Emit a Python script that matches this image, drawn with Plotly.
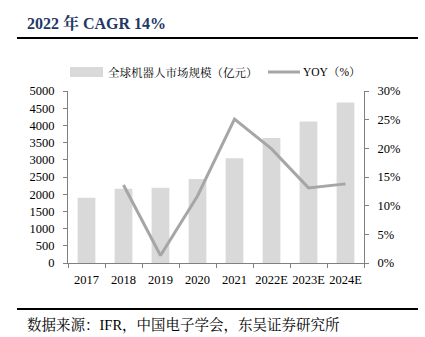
import plotly.graph_objects as go

years = ["2017", "2018", "2019", "2020", "2021", "2022E", "2023E", "2024E"]
market = [1900, 2160, 2190, 2440, 3045, 3635, 4115, 4665]
yoy_years = ["2018", "2019", "2020", "2021", "2022E", "2023E", "2024E"]
yoy = [13.6, 1.3, 11.7, 25.1, 19.9, 13.1, 13.8]

left_ticks = list(range(0, 5001, 500))
right_ticks = list(range(0, 31, 5))

bar_name = "全球机器人市场规模（亿元）"
line_name = "YOY（%）"
bar_color = "#d9d9d9"
line_color = "#a6a6a6"

serif = "Liberation Serif, Times New Roman, Noto Serif CJK SC, Noto Sans CJK SC, serif"

W, H = 425, 337
pl, pr, pt, pb = 68, 61, 91, 74
pw, ph = W - pl - pr, H - pt - pb


def px(x):
    return (x - pl) / pw


def py(y):
    return (H - pb - y) / ph


fig = go.Figure()
fig.add_trace(go.Bar(
    x=years, y=market, name=bar_name, showlegend=False,
    marker=dict(color=bar_color, line=dict(width=0)), width=0.48,
))
fig.add_trace(go.Scatter(
    x=yoy_years, y=yoy, name=line_name, yaxis="y2", mode="lines", showlegend=False,
    line=dict(color=line_color, width=3),
))

axis_common = dict(
    showline=True, linecolor="#808080", linewidth=1,
    ticks="outside", ticklen=4, tickcolor="#808080", showgrid=False,
    tickfont=dict(size=12.5, family=serif),
)

fig.update_layout(
    width=W, height=H,
    margin=dict(l=pl, r=pr, t=pt, b=pb),
    paper_bgcolor="white", plot_bgcolor="white",
    font=dict(family=serif, size=12, color="#000000"),
    showlegend=False,
    xaxis=dict(type="category", tickson="boundaries", tickangle=0,
               ticklabelstandoff=5, **axis_common),
    yaxis=dict(range=[0, 5000], tickvals=left_ticks, zeroline=False,
               ticklabelstandoff=6, **axis_common),
    yaxis2=dict(range=[0, 30], tickvals=right_ticks,
                ticktext=[f"{v}%" for v in right_ticks],
                overlaying="y", side="right", zeroline=False,
                ticklabelstandoff=6, **axis_common),
    annotations=[
        dict(text="<b>2022 年 CAGR 14%</b>", xref="paper", yref="paper",
             x=px(25), y=py(23), xanchor="left", yanchor="middle",
             showarrow=False, font=dict(size=16, color="#1f3864", family=serif)),
        dict(text="数据来源：IFR，中国电子学会，东吴证券研究所", xref="paper", yref="paper",
             x=px(25), y=py(325), xanchor="left", yanchor="middle",
             showarrow=False, font=dict(size=14.5, color="#000000", family=serif)),
        dict(text=bar_name, xref="paper", yref="paper",
             x=px(106), y=py(72), xanchor="left", yanchor="middle",
             showarrow=False, font=dict(size=11.5, color="#000000", family=serif)),
        dict(text=line_name, xref="paper", yref="paper",
             x=px(301), y=py(72), xanchor="left", yanchor="middle",
             showarrow=False, font=dict(size=11.5, color="#000000", family=serif)),
    ],
    shapes=[
        dict(type="line", xref="paper", yref="paper", x0=px(17), x1=px(418),
             y0=py(38), y1=py(38), line=dict(color="black", width=2)),
        dict(type="line", xref="paper", yref="paper", x0=px(17), x1=px(418),
             y0=py(309), y1=py(309), line=dict(color="black", width=2)),
        dict(type="rect", xref="paper", yref="paper", x0=px(70), x1=px(103),
             y0=py(67), y1=py(77), line=dict(width=0), fillcolor=bar_color),
        dict(type="line", xref="paper", yref="paper", x0=px(268), x1=px(300),
             y0=py(72), y1=py(72), line=dict(color=line_color, width=3)),
    ],
)

fig.write_html("out.html")
